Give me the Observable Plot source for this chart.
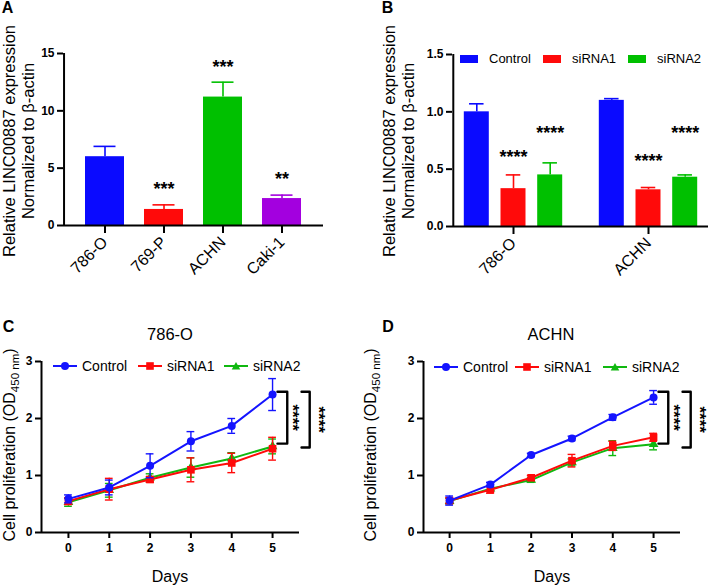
<!DOCTYPE html>
<html><head><meta charset="utf-8">
<script src="https://cdn.jsdelivr.net/npm/d3@7"></script>
<script src="https://cdn.jsdelivr.net/npm/@observablehq/plot@0.6"></script>
<style>
body{margin:0;background:#fff;}
#fig{position:relative;width:709px;height:586px;overflow:hidden;font-family:"Liberation Sans",Arial,Helvetica,sans-serif;color:#000;background:#fff;}
</style></head><body><div id="fig"></div>
<script>
// ---------- DATA ----------
// Panel A
const cellsA = ["786-O", "769-P", "ACHN", "Caki-1"];
const meanA = [6.0, 1.4, 11.2, 2.35];
const errA = [0.9, 0.4, 1.3, 0.3];
const sigA = ["", "***", "***", "**"];
const sigYA = [null, 3.15, 13.8, 4.0];
const colorsA = ["#0a0aff", "#ff0a0a", "#00c000", "#a300df"];

// Panel B
const groupsB = ["786-O", "ACHN"];
const seriesB = ["Control", "siRNA1", "siRNA2"];
const colorsB = ["#0a0aff", "#ff0a0a", "#00c000"];
const controlB = [1.0, 1.10];
const controlBErr = [0.07, 0.015];
const siRNA1B = [0.33, 0.32];
const siRNA1BErr = [0.12, 0.02];
const siRNA2B = [0.45, 0.43];
const siRNA2BErr = [0.105, 0.02];
const sigB = [["", ""], ["****", "****"], ["****", "****"]];
const sigYB = [[null, null], [0.6, 0.565], [0.815, 0.815]];

// Panels C / D
const days = [0, 1, 2, 3, 4, 5];
const seriesCD = ["Control", "siRNA1", "siRNA2"];
const lineColors = ["#1414ff", "#ff0a0a", "#10b810"];
const controlC = [0.59, 0.79, 1.17, 1.60, 1.87, 2.42];
const controlCsd = [0.07, 0.13, 0.21, 0.17, 0.13, 0.28];
const siRNA1C = [0.55, 0.76, 0.93, 1.10, 1.22, 1.47];
const siRNA1Csd = [0.06, 0.19, 0.05, 0.21, 0.17, 0.20];
const siRNA2C = [0.53, 0.74, 0.96, 1.14, 1.30, 1.51];
const siRNA2Csd = [0.07, 0.12, 0.07, 0.17, 0.10, 0.13];
const controlD = [0.56, 0.84, 1.36, 1.65, 2.02, 2.37];
const controlDsd = [0.08, 0.04, 0.03, 0.04, 0.05, 0.12];
const siRNA1D = [0.56, 0.75, 0.96, 1.26, 1.52, 1.67];
const siRNA1Dsd = [0.05, 0.06, 0.04, 0.11, 0.08, 0.07];
const siRNA2D = [0.55, 0.77, 0.92, 1.23, 1.48, 1.55];
const siRNA2Dsd = [0.05, 0.05, 0.04, 0.06, 0.13, 0.10];
// significance brackets (value range spanned at day 5)
const bracketTop = [2.47, 2.47];
const bracketBottom = [1.56, 1.49];
const bracketStars = ["****", "****"];

// ---------- HELPERS ----------
const FONT = '"Liberation Sans", Arial, Helvetica, sans-serif';
const INK = "#000";
const fig = document.getElementById("fig");
function put(node, left, top) {
  node.style.position = "absolute";
  node.style.left = left + "px";
  node.style.top = top + "px";
  fig.appendChild(node);
}
function label(html, cx, cy, size, opts = {}) {
  const d = document.createElement("div");
  d.innerHTML = html;
  d.style.cssText = `position:absolute;left:${cx}px;top:${cy}px;font-size:${size}px;font-weight:${opts.weight || "normal"};line-height:${opts.lh || 1};white-space:nowrap;text-align:center;transform:translate(-50%,-50%) rotate(${opts.rot || 0}deg);`;
  fig.appendChild(d);
}
const baseStyle = {fontFamily: FONT, fontSize: "12px", background: "transparent", overflow: "visible", color: "#000"};
// offset (px) from the first band centre back to the start of the band range
function bandLead(rangeWidth, n, pInner, pOuter) {
  const step = rangeWidth / (n - pInner + 2 * pOuter);
  return step * (pOuter + (1 - pInner) / 2);
}

// ---------- PANEL A ----------
const dataA = cellsA.map((c, i) => ({cell: c, mean: meanA[i], hi: meanA[i] + errA[i], sig: sigA[i], sigY: sigYA[i], color: colorsA[i]}));
const A_W = 350, A_ML = 63, A_MR = 27, A_PI = 0.34, A_PO = 0.36;
const plotA = Plot.plot({
  width: A_W, height: 290, marginLeft: A_ML, marginTop: 53, marginBottom: 65, marginRight: A_MR,
  style: baseStyle,
  color: {type: "identity"},
  x: {domain: cellsA, paddingInner: A_PI, paddingOuter: A_PO, label: null},
  y: {domain: [0, 15], label: null},
  marks: [
    Plot.ruleX(dataA, {x: "cell", y1: "mean", y2: "hi", stroke: "color", strokeWidth: 1.6}),
    Plot.tickY(dataA, {x: "cell", y: "hi", stroke: "color", strokeWidth: 1.6, insetLeft: 8.5, insetRight: 8.5}),
    Plot.barY(dataA, {x: "cell", y: "mean", fill: "color"}),
    Plot.text(dataA.filter(d => d.sig), {x: "cell", y: "sigY", text: "sig", fontSize: 18, fontWeight: "bold", fill: INK}),
    Plot.axisY({ticks: [0, 5, 10, 15], tickSize: 6, tickPadding: 3, fontWeight: "bold", fontSize: 12, stroke: INK, strokeWidth: 2, label: null}),
    Plot.axisX({tickSize: 8, tickPadding: 6, tickRotate: -45, fontSize: 16, stroke: INK, strokeWidth: 2, label: null}),
    Plot.ruleX([cellsA[0]], {y1: 0, y2: 15, dx: -bandLead(A_W - A_ML - A_MR, cellsA.length, A_PI, A_PO), stroke: INK, strokeWidth: 2}),
    Plot.ruleY([0], {stroke: INK, strokeWidth: 2})
  ]
});
put(plotA, 0, 0);

// ---------- PANEL B ----------
const meansB = [controlB, siRNA1B, siRNA2B];
const errsB = [controlBErr, siRNA1BErr, siRNA2BErr];
const dataB = seriesB.flatMap((s, si) => groupsB.map((g, gi) => ({
  group: g, series: s, si, mean: meansB[si][gi], hi: meansB[si][gi] + errsB[si][gi],
  sig: sigB[si][gi], sigY: sigYB[si][gi], color: colorsB[si]
})));
const B_W = 354, B_ML = 97, B_MR = 1, B_PI = 0.2, B_PO = 0.044;
const stepB = 36.7, bandB = 108.5, barWB = 25.5, capWB = 15;
const marksB = [];
seriesB.forEach((s, si) => {
  const d = dataB.filter(e => e.series === s);
  const off = (si - 1) * stepB;
  marksB.push(
    Plot.ruleX(d, {x: "group", y1: "mean", y2: "hi", stroke: "color", strokeWidth: 1.6, dx: off}),
    Plot.tickY(d, {x: "group", y: "hi", stroke: "color", strokeWidth: 1.6, insetLeft: (bandB - capWB) / 2, insetRight: (bandB - capWB) / 2, dx: off}),
    Plot.barY(d, {x: "group", y: "mean", fill: "color", insetLeft: (bandB - barWB) / 2, insetRight: (bandB - barWB) / 2, dx: off}),
    Plot.text(d.filter(e => e.sig), {x: "group", y: "sigY", text: "sig", fontSize: 18, fontWeight: "bold", fill: INK, dx: off})
  );
});
const plotB = Plot.plot({
  width: B_W, height: 290, marginLeft: B_ML, marginTop: 54, marginBottom: 64, marginRight: B_MR,
  style: baseStyle,
  color: {type: "identity"},
  x: {domain: groupsB, paddingInner: B_PI, paddingOuter: B_PO, label: null},
  y: {domain: [0, 1.5], label: null},
  marks: [
    ...marksB,
    Plot.axisY({ticks: [0, 0.5, 1, 1.5], tickFormat: ".1f", tickSize: 6, tickPadding: 3, fontWeight: "bold", fontSize: 12, stroke: INK, strokeWidth: 2, label: null}),
    Plot.axisX({tickSize: 8, tickPadding: 6, tickRotate: -45, fontSize: 16, stroke: INK, strokeWidth: 2, label: null}),
    Plot.ruleX([groupsB[0]], {y1: 0, y2: 1.5, dx: -bandLead(B_W - B_ML - B_MR, groupsB.length, B_PI, B_PO), stroke: INK, strokeWidth: 2}),
    Plot.ruleY([0], {stroke: INK, strokeWidth: 2})
  ]
});
put(plotB, 355, 0);

// ---------- PANELS C / D ----------
const symbolsCD = ["circle", "square", "triangle"];
const radiiCD = [4, 4.3, 3.6];
const capDays = 0.095;
function longData(means, sds) {
  return seriesCD.flatMap((s, si) => days.map((day, di) => ({series: s, day, mean: means[si][di], sd: sds[si][di]})));
}
function linePanel(data, xDomain, width, marginLeft, marginRight) {
  const marks = [];
  for (const si of [2, 1, 0]) {
    const d = data.filter(e => e.series === seriesCD[si]);
    const c = lineColors[si];
    marks.push(
      Plot.ruleX(d, {x: "day", y1: e => e.mean - e.sd, y2: e => e.mean + e.sd, stroke: c, strokeWidth: 1.4}),
      Plot.ruleY(d, {y: e => e.mean + e.sd, x1: e => e.day - capDays, x2: e => e.day + capDays, stroke: c, strokeWidth: 1.4}),
      Plot.ruleY(d, {y: e => e.mean - e.sd, x1: e => e.day - capDays, x2: e => e.day + capDays, stroke: c, strokeWidth: 1.4}),
      Plot.line(d, {x: "day", y: "mean", stroke: c, strokeWidth: 2}),
      Plot.dot(d, {x: "day", y: "mean", fill: c, stroke: "none", symbol: symbolsCD[si], r: radiiCD[si]})
    );
  }
  // brackets at last day
  const last = days[days.length - 1];
  const arms = [[0.12, 0.36], [0.71, 0.91]];
  const starX = [0.49, 1.13];
  bracketTop.forEach((top, i) => {
    const [a, b] = arms[i];
    const pts = [
      {x: last + a, y: top}, {x: last + b, y: top},
      {x: last + b, y: bracketBottom[i]}, {x: last + a, y: bracketBottom[i]}
    ];
    marks.push(Plot.line(pts, {x: "x", y: "y", stroke: INK, strokeWidth: 2.4, curve: "linear"}));
    marks.push(Plot.text([{x: last + starX[i], y: (top + bracketBottom[i]) / 2, t: bracketStars[i]}],
      {x: "x", y: "y", text: "t", rotate: 90, fontSize: 17, fontWeight: "bold", fill: INK}));
  });
  return Plot.plot({
    width, height: 296, marginLeft, marginRight, marginTop: 71, marginBottom: 54,
    style: baseStyle,
    x: {domain: xDomain, label: null},
    y: {domain: [0, 3], label: null},
    marks: [
      ...marks,
      Plot.axisY({ticks: [0, 1, 2, 3], tickFormat: "d", tickSize: 6, tickPadding: 3, fontWeight: "bold", fontSize: 12, stroke: INK, strokeWidth: 2, label: null}),
      Plot.axisX({ticks: days, tickFormat: "d", tickSize: 6, tickPadding: 5, fontWeight: "bold", fontSize: 12, stroke: INK, strokeWidth: 2, label: null}),
      Plot.ruleX([xDomain[0]], {y1: 0, y2: 3, stroke: INK, strokeWidth: 2}),
      Plot.ruleY([0], {x1: xDomain[0], x2: xDomain[1], stroke: INK, strokeWidth: 2})
    ]
  });
}
const plotC = linePanel(longData([controlC, siRNA1C, siRNA2C], [controlCsd, siRNA1Csd, siRNA2Csd]), [-0.66, 5.66], 350, 41, 51);
put(plotC, 0, 290);
const plotD = linePanel(longData([controlD, siRNA1D, siRNA2D], [controlDsd, siRNA1Dsd, siRNA2Dsd]), [-0.64, 5.66], 354, 68, 29);
put(plotD, 355, 290);

// ---------- TEXT / LEGENDS ----------
label("A", 7.5, 8, 16, {weight: "bold"});
label("B", 387.5, 8, 16, {weight: "bold"});
label("C", 8.5, 327, 16, {weight: "bold"});
label("D", 388, 327, 16, {weight: "bold"});
const yTitleAB = "Relative LINC00887 expression<br>Normalized to β-actin";
label(yTitleAB, 19, 141, 16.5, {rot: -90, lh: 1.18});
label(yTitleAB, 398.5, 141, 16.5, {rot: -90, lh: 1.18});
const yTitleCD = 'Cell proliferation (OD<span style="font-size:0.72em;position:relative;top:0.35em">450 nm</span>)';
label(yTitleCD, 10, 445, 16, {rot: -90});
label(yTitleCD, 371, 445, 16, {rot: -90});
label("786-O", 170, 334, 16.5);
label("ACHN", 551, 334, 16.5);
label("Days", 170, 577, 16);
label("Days", 552, 577, 16);

// B legend (swatches)
const legBX = [460, 543, 628];
seriesB.forEach((s, i) => {
  const item = document.createElement("div");
  item.style.cssText = "display:flex;align-items:center;font-size:13px;line-height:1;white-space:nowrap;";
  item.innerHTML = `<span style="display:inline-block;width:18px;height:8px;background:${colorsB[i]};margin-right:11px"></span><span>${s}</span>`;
  put(item, legBX[i], 52);
});
// C / D legends (line + symbol)
function markerSVG(si) {
  const c = lineColors[si];
  let shape;
  if (si === 0) shape = `<circle cx="12" cy="6" r="4" fill="${c}"/>`;
  else if (si === 1) shape = `<rect x="8.2" y="2.2" width="7.6" height="7.6" fill="${c}"/>`;
  else shape = `<path d="M12,2 L16.3,9.5 L7.7,9.5 Z" fill="${c}"/>`;
  return `<svg width="24" height="12" style="display:block"><line x1="0" y1="6" x2="24" y2="6" stroke="${c}" stroke-width="2"/>${shape}</svg>`;
}
function lineLegend(xs, y) {
  seriesCD.forEach((s, i) => {
    const item = document.createElement("div");
    item.style.cssText = "display:flex;align-items:center;font-size:14px;line-height:1;white-space:nowrap;";
    item.innerHTML = `${markerSVG(i)}<span style="margin-left:5px">${s}</span>`;
    put(item, xs[i], y - 7);
  });
}
lineLegend([53, 138, 224], 366);
lineLegend([434, 515, 603], 367);
</script></body></html>
